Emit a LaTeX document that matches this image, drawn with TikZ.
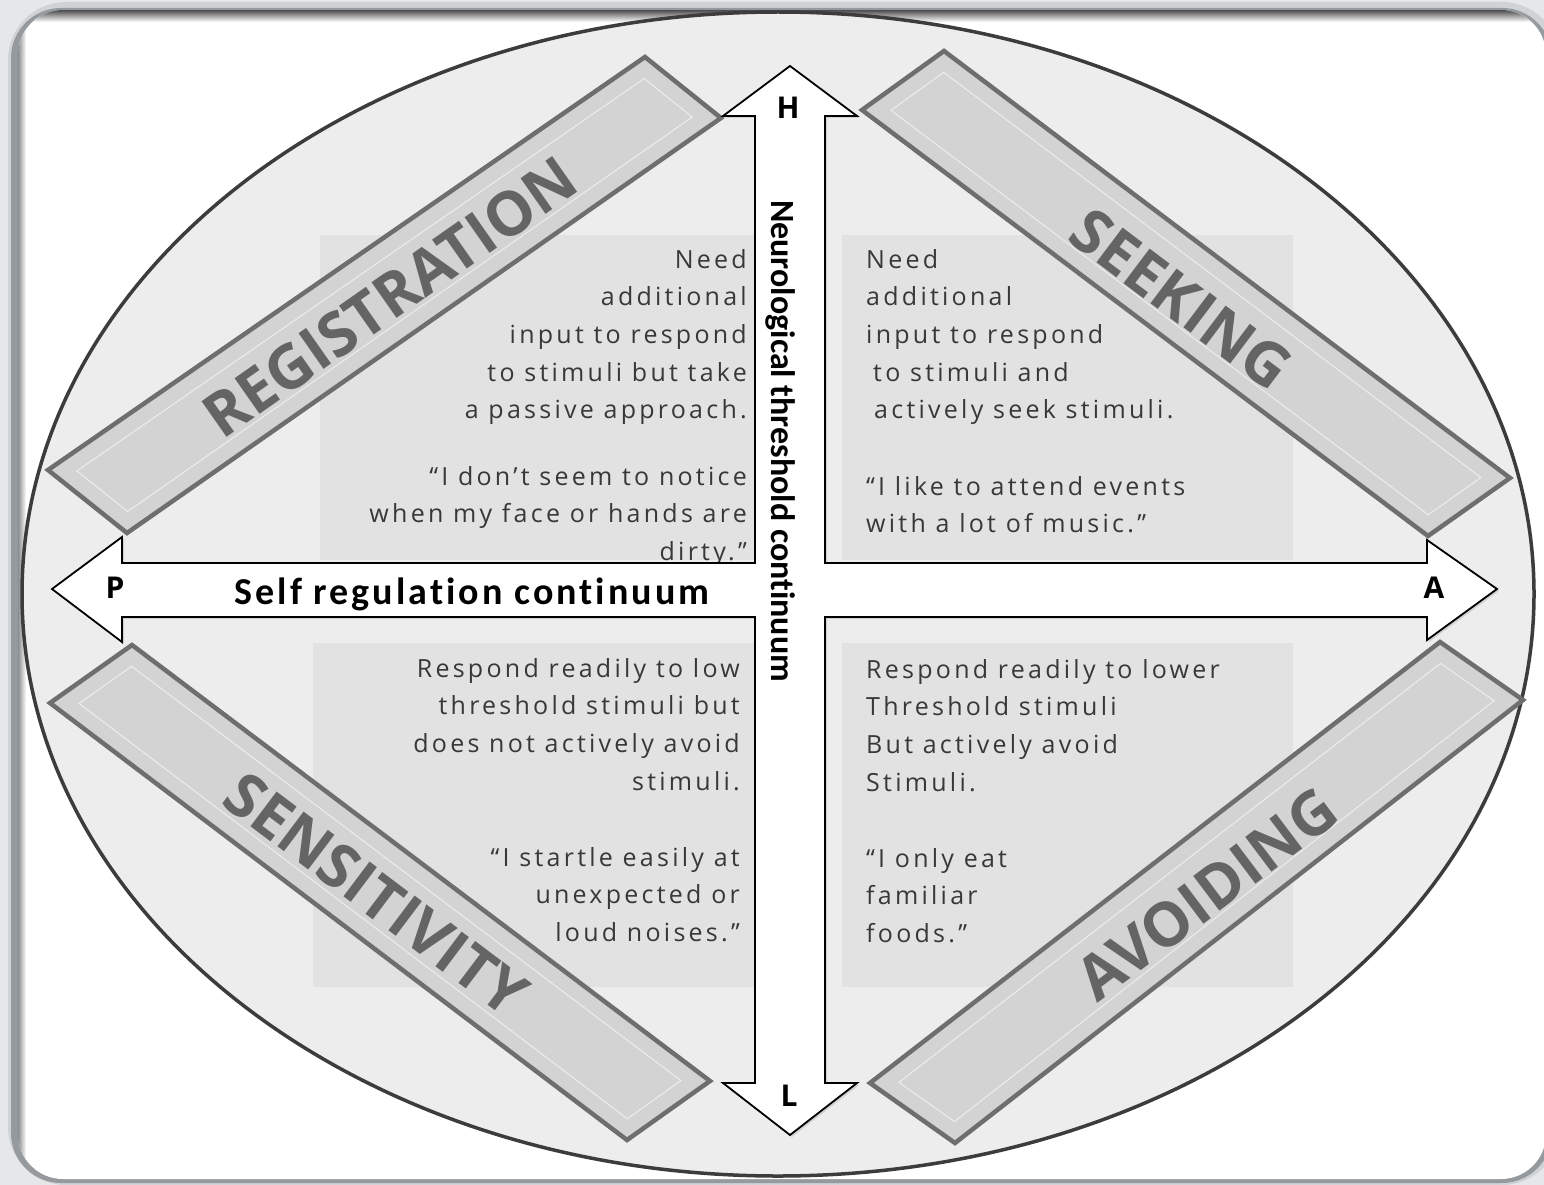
\documentclass[tikz,border=0pt]{standalone}
\usepackage{fontspec}
\setmainfont{Open Sans}
\newfontfamily\bodyfont[LetterSpace=13]{Open Sans}
\newfontfamily\labelfont[Ligatures=NoCommon]{Carlito}
\newfontfamily\hlabelfont[LetterSpace=8,Ligatures=NoCommon]{Carlito}
\newfontfamily\bannerfont{Open Sans}
\usetikzlibrary{shadows,calc}
\definecolor{bgouter}{HTML}{E5E7E8}
\definecolor{frameband}{HTML}{CFD3D5}
\definecolor{frameline}{HTML}{959A9E}
\definecolor{ellfill}{HTML}{EDEDED}
\definecolor{ellline}{HTML}{3C3C3C}
\definecolor{textbg}{HTML}{E2E2E2}
\definecolor{bannerfill}{HTML}{D3D3D3}
\definecolor{bannerline}{HTML}{6E6E6E}
\definecolor{bannerinner}{HTML}{EDEDED}
\definecolor{bannertext}{HTML}{646464}
\definecolor{bodytext}{HTML}{383838}
\tikzset{
  bannerbox/.style={draw=bannerline, fill=bannerfill, line width=4.5pt, line join=miter},
  bannerinnerline/.style={draw=bannerinner, line width=1pt},
  bannerlabel/.style={inner sep=0pt, text=bannertext,
     font=\bannerfont\bfseries\fontsize{61}{68}\selectfont},
  bodytxt/.style={inner sep=0pt, text=bodytext, font=\bodyfont\fontsize{25}{28}\selectfont},
  axisletter/.style={inner sep=0pt, font=\bannerfont\bfseries\fontsize{30}{34}\selectfont},
  crossarrow/.style={draw=black, line width=1.8pt, fill=white, line join=miter,
     drop shadow={opacity=0.25, shadow xshift=2pt, shadow yshift=-2pt}},
  textpanel/.style={fill=textbg}
}
\newcommand\drawbanner[5]{%
  \coordinate (#1a) at #2; \coordinate (#1b) at #3;
  \coordinate (#1c) at #4; \coordinate (#1d) at #5;
  \draw[bannerbox] (#1a) -- (#1b) -- (#1c) -- (#1d) -- cycle;
  \draw[bannerinnerline]
    ($(#1a)!18pt!(#1b)+(#1a)!18pt!(#1d)-(#1a)$) --
    ($(#1b)!18pt!(#1a)+(#1b)!18pt!(#1c)-(#1b)$) --
    ($(#1c)!18pt!(#1b)+(#1c)!18pt!(#1d)-(#1c)$) --
    ($(#1d)!18pt!(#1c)+(#1d)!18pt!(#1a)-(#1d)$) -- cycle;
}
\begin{document}
\begin{tikzpicture}[x=1pt,y=-1pt]
\useasboundingbox (0,0) rectangle (1544,1185);
% outer frame
\fill[bgouter] (0,0) rectangle (1544,1185);
\fill[frameband, rounded corners=58pt] (8,2) rectangle (1560,1185);
\fill[frameline, rounded corners=50pt] (11,8) rectangle (1552,1183);
\fill[white, rounded corners=45pt] (18,10) rectangle (1546,1179);
\begin{scope}
  \clip[rounded corners=45pt] (18,10) rectangle (1546,1179);
  \shade[top color=black!70, bottom color=white] (18,10) rectangle (1546,22);
  \shade[left color=black!45, right color=white] (18,10) rectangle (26,1179);
\end{scope}
% ellipse
\draw[fill=ellfill, draw=ellline, line width=3.5pt] (778,594) ellipse [x radius=756pt, y radius=582pt];
% text panels
\fill[textpanel] (320,235) rectangle (755,560);
\fill[textpanel] (842,235) rectangle (1293,560);
\fill[textpanel] (313,643) rectangle (755,987);
\fill[textpanel] (842,643) rectangle (1293,987);
% top-left text
\foreach \t [count=\i] in {Need, additional, input to respond, to stimuli but take, a passive approach.}
  \node[bodytxt, anchor=base east] (tla\i) at (747,{268+37.7*(\i-1)}) {\t};
\foreach \t [count=\i] in {“I don’t seem to notice, when my face or hands are, dirty.”}
  \node[bodytxt, anchor=base east] (tlb\i) at (747,{485+37.7*(\i-1)}) {\t};
% top-right text
\foreach \t [count=\i] in {Need, additional, input to respond, \hspace{7pt}to stimuli and, \hspace{8pt}actively seek stimuli.}
  \node[bodytxt, anchor=base west] (tra\i) at (866,{268+37.7*(\i-1)}) {\t};
\foreach \t [count=\i] in {“I like to attend events, with a lot of music.”}
  \node[bodytxt, anchor=base west] (trb\i) at (866,{495+37.7*(\i-1)}) {\t};
% bottom-left text
\foreach \t [count=\i] in {Respond readily to low, threshold stimuli but, does not actively avoid, stimuli.}
  \node[bodytxt, anchor=base east] (bla\i) at (740,{677+37.7*(\i-1)}) {\t};
\foreach \t [count=\i] in {“I startle easily at, unexpected or, loud noises.”}
  \node[bodytxt, anchor=base east] (blb\i) at (740,{866+37.7*(\i-1)}) {\t};
% bottom-right text
\foreach \t [count=\i] in {Respond readily to lower, Threshold stimuli, But actively avoid, Stimuli.}
  \node[bodytxt, anchor=base west] (bra\i) at (866,{678+37.7*(\i-1)}) {\t};
\foreach \t [count=\i] in {“I only eat, familiar, foods.”}
  \node[bodytxt, anchor=base west] (brb\i) at (866,{867+37.7*(\i-1)}) {\t};
% banners
\drawbanner{reg}{(48,470)}{(645,57)}{(721,118)}{(127,533)}
\drawbanner{seek}{(862,110)}{(944,51)}{(1510,478)}{(1428,536)}
\drawbanner{sens}{(132,645)}{(50,703)}{(627,1140)}{(710,1081)}
\drawbanner{avoid}{(1440,642)}{(1523,700)}{(955,1143)}{(870,1083)}
\node[bannerlabel, rotate=35] (reg) at (390,297) {REGISTRATION};
\node[bannerlabel, rotate=-37] (seek) at (1181,299) {SEEKING};
\node[bannerlabel, rotate=-37] (sens) at (376,894) {SENSITIVITY};
\node[bannerlabel, rotate=37] (avoid) at (1207,894) {AVOIDING};
% cross-shaped double arrow
\draw[crossarrow] (790,66) -- (857,116) -- (825,116) -- (825,563) -- (1427,563) -- (1427,540)
  -- (1497,589) -- (1427,640) -- (1427,617) -- (825,617) -- (825,1083) -- (857,1083)
  -- (790,1135) -- (723,1083) -- (755,1083) -- (755,617) -- (122,617) -- (122,642)
  -- (52,589) -- (122,537) -- (122,563) -- (755,563) -- (755,116) -- (723,116) -- cycle;
% axis labels
\node[axisletter] (H) at (788,108) {H};
\node[axisletter] (L) at (789,1096) {L};
\node[axisletter] (P) at (115,588) {P};
\node[axisletter] (A) at (1434,588) {A};
\node[inner sep=0pt, font=\hlabelfont\bfseries\fontsize{38}{42}\selectfont] (selfreg) at (472,594) {Self regulation continuum};
\node[inner sep=0pt, rotate=-90, font=\labelfont\bfseries\fontsize{34}{40}\selectfont] (neuro) at (781,441) {Neurological threshold continuum};
\end{tikzpicture}
\end{document}
